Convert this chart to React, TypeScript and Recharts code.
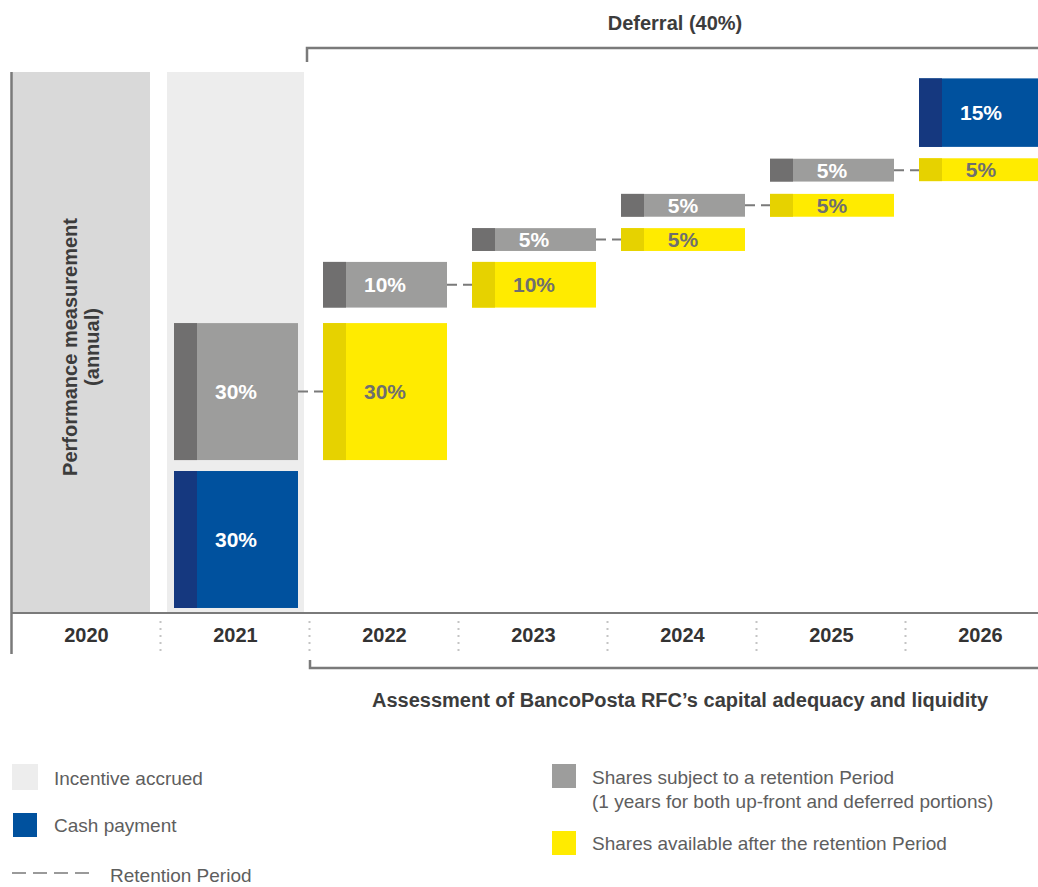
import React from 'react';
import { ComposedChart, Bar, XAxis, YAxis, ReferenceArea } from 'recharts';

const years = ['2020', '2021', '2022', '2023', '2024', '2025', '2026'];
// share of the incentive in each block, and the level the block starts at
const cashPct = [null, 30, null, null, null, null, 15];
const cashBase = [null, 0, null, null, null, null, 101];
const heldPct = [null, 30, 10, 5, 5, 5, null];
const heldBase = [null, 32.4, 65.8, 78.2, 85.7, 93.4, null];
const freePct = [null, null, 30, 10, 5, 5, 5];
const freeBase = [null, null, 32.4, 65.8, 78.2, 85.7, 93.5];

const deferralTitle = 'Deferral (40%)';
const assessmentTitle = 'Assessment of BancoPosta RFC\u2019s capital adequacy and liquidity';
const sideTitle = ['Performance measurement', '(annual)'];
const legendLabels = {
  accrued: 'Incentive accrued',
  cash: 'Cash payment',
  retention: 'Retention Period',
  held: ['Shares subject to a retention Period', '(1 years for both up-front and deferred portions)'],
  free: 'Shares available after the retention Period',
};

const range = (base: (number | null)[], pct: (number | null)[], i: number) =>
  pct[i] == null || base[i] == null ? null : [base[i] as number, (base[i] as number) + (pct[i] as number)];

const data = years.map((year, i) => ({
  year,
  cash: range(cashBase, cashPct, i),
  cashPct: cashPct[i],
  held: range(heldBase, heldPct, i),
  heldPct: heldPct[i],
  free: range(freeBase, freePct, i),
  freePct: freePct[i],
}));

const W = 1038;
const H = 887;
const PLOT_LEFT = 12;
const PLOT_TOP = 72;
const PLOT_BOTTOM = 613;
const COL_W = 149;
const AXIS_H = 30;
const BAR_W = 124;
const STRIPE = 23;
const LINE = '#7a7a7a';

const makeBlock = (main: string, stripe: string, textColor: string, pctKey: string, connector: boolean) =>
  (props: any) => {
    const { x, y, width, height, payload } = props;
    const pct = payload ? payload[pctKey] : null;
    if (pct == null || !width || !height) return <g />;
    const top = Math.min(y, y + height);
    const h = Math.abs(height);
    const mid = top + h / 2;
    return (
      <g>
        <rect x={x} y={top} width={width} height={h} fill={main} />
        <rect x={x} y={top} width={STRIPE} height={h} fill={stripe} />
        {connector && (
          <line x1={x + width} x2={x + width + (COL_W - width)} y1={mid} y2={mid}
            stroke={LINE} strokeWidth={2} strokeDasharray="10 6" />
        )}
        <text x={x + width / 2} y={mid} textAnchor="middle" dominantBaseline="central"
          fontSize={21} fontWeight="bold" fill={textColor}>{pct}%</text>
      </g>
    );
  };

const CashBlock = makeBlock('#00519E', '#15387F', '#ffffff', 'cashPct', false);
const HeldBlock = makeBlock('#9D9D9C', '#706F6F', '#ffffff', 'heldPct', true);
const FreeBlock = makeBlock('#FFEB00', '#E6D200', '#6f6f6f', 'freePct', false);

const bgShape = (fill: string, insetL: number, insetR: number) => (p: any) => (
  <rect x={p.x + insetL} y={p.y} width={p.width - insetL - insetR} height={p.height} fill={fill} />
);

export default function App() {
  const chartW = PLOT_LEFT + COL_W * years.length + 5;
  const colEdge = (i: number) => PLOT_LEFT + COL_W * i;
  return (
    <div style={{ position: 'absolute', left: 0, top: 0, width: W, height: H, overflow: 'hidden',
      background: '#fff', fontFamily: '"Liberation Sans", Arial, sans-serif' }}>
      <ComposedChart width={chartW} height={H} data={data}
        margin={{ top: PLOT_TOP, left: PLOT_LEFT, right: 5, bottom: H - PLOT_BOTTOM - AXIS_H }}>
        <XAxis xAxisId="main" dataKey="year" height={AXIS_H} axisLine={{ stroke: LINE, strokeWidth: 2 }}
          tickLine={false} tickMargin={9} interval={0}
          tick={{ fill: '#333', fontSize: 20, fontWeight: 'bold' }} />
        <XAxis xAxisId="cash" dataKey="year" hide height={0} />
        <XAxis xAxisId="held" dataKey="year" hide height={0} />
        <XAxis xAxisId="free" dataKey="year" hide height={0} />
        <YAxis hide type="number" domain={[-1.1, 117.4]} allowDataOverflow />
        <ReferenceArea xAxisId="main" x1="2020" x2="2020" shape={bgShape('#D9D9D9', 0, 11)} ifOverflow="visible" />
        <ReferenceArea xAxisId="main" x1="2021" x2="2021" shape={bgShape('#EDEDED', 6, 6)} ifOverflow="visible" />
        <Bar xAxisId="cash" dataKey="cash" barSize={BAR_W} shape={CashBlock} isAnimationActive={false} />
        <Bar xAxisId="held" dataKey="held" barSize={BAR_W} shape={HeldBlock} isAnimationActive={false} />
        <Bar xAxisId="free" dataKey="free" barSize={BAR_W} shape={FreeBlock} isAnimationActive={false} />
      </ComposedChart>

      <svg width={W} height={H} style={{ position: 'absolute', left: 0, top: 0, pointerEvents: 'none' }}>
        {/* left frame line */}
        <line x1={11.5} x2={11.5} y1={PLOT_TOP} y2={654} stroke={LINE} strokeWidth={2.5} />
        {/* dotted year dividers */}
        {years.slice(1).map((y, i) => (
          <line key={y} x1={colEdge(i + 1) - 0.5} x2={colEdge(i + 1) - 0.5} y1={621} y2={652}
            stroke="#c4c4c4" strokeWidth={2} strokeDasharray="2 5" />
        ))}
        {/* deferral bracket */}
        <path d={`M${colEdge(2) - 3},62 V48 H${W}`} fill="none" stroke={LINE} strokeWidth={2.5} />
        <text x={675} y={30} textAnchor="middle" fontSize={20} fontWeight="bold" fill="#3c3c3c">{deferralTitle}</text>
        {/* assessment bracket */}
        <path d={`M${colEdge(2)},660 V668 H${W}`} fill="none" stroke={LINE} strokeWidth={2.5} />
        <text x={680} y={707} textAnchor="middle" fontSize={20} fontWeight="bold" fill="#3c3c3c">{assessmentTitle}</text>
        {/* side title */}
        <text transform="translate(77,347) rotate(-90)" textAnchor="middle" fontSize={20} fontWeight="bold" fill="#3c3c3c">{sideTitle[0]}</text>
        <text transform="translate(99,347) rotate(-90)" textAnchor="middle" fontSize={20} fontWeight="bold" fill="#3c3c3c">{sideTitle[1]}</text>

        {/* legend */}
        <g fontSize={19} fill="#5e5e5e">
          <rect x={12} y={764} width={26} height={26} fill="#EDEDED" />
          <text x={54} y={785}>{legendLabels.accrued}</text>
          <rect x={13} y={813} width={24} height={24} fill="#00519E" />
          <text x={54} y={832}>{legendLabels.cash}</text>
          <line x1={12} x2={89} y1={873} y2={873} stroke={LINE} strokeWidth={1.5} strokeDasharray="14 7" />
          <text x={110} y={882}>{legendLabels.retention}</text>
          <rect x={552} y={764} width={24} height={24} fill="#9D9D9C" />
          <text x={592} y={784}>{legendLabels.held[0]}</text>
          <text x={592} y={808}>{legendLabels.held[1]}</text>
          <rect x={552} y={831} width={24} height={24} fill="#FFEB00" />
          <text x={592} y={850}>{legendLabels.free}</text>
        </g>
      </svg>
    </div>
  );
}
